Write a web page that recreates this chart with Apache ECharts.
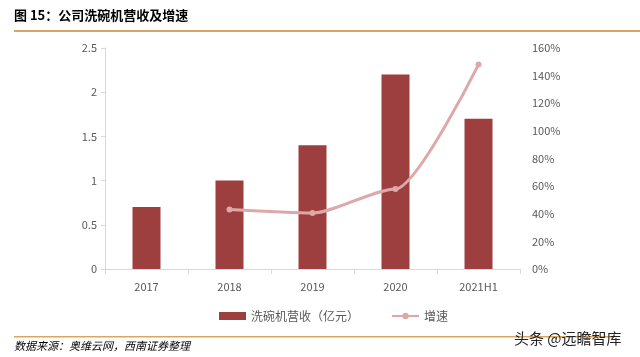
<!DOCTYPE html>
<html><head><meta charset="utf-8">
<script src="https://cdn.jsdelivr.net/npm/echarts@6/dist/echarts.min.js"></script>
<style>html,body{margin:0;padding:0;background:#fff}#c{width:640px;height:357px}</style>
</head><body><div id="c"></div>
<script>
var categories = ['2017', '2018', '2019', '2020', '2021H1'];
var revenue = [0.7, 1.0, 1.4, 2.2, 1.7];
var growth = [null, 43, 40.5, 58, 148];
var leftTicks = [0, 0.5, 1, 1.5, 2, 2.5];
var rightTicks = [0, 20, 40, 60, 80, 100, 120, 140, 160];

var FONT = '"Noto Sans CJK SC", "Noto Sans", sans-serif';
var chart = echarts.init(document.getElementById('c'));
chart.setOption({
  animation: false,
  textStyle: { fontFamily: FONT },
  grid: { left: 105, right: 120, top: 48, bottom: 88 },
  legend: {
    left: 214, top: 305, itemGap: 32, itemWidth: 27, itemHeight: 8,
    textStyle: { fontSize: 12, color: '#595959', fontFamily: FONT },
    data: [
      { name: '洗碗机营收（亿元）', icon: 'rect' },
      { name: '增速' }
    ]
  },
  xAxis: {
    type: 'category', data: categories,
    axisLine: { lineStyle: { color: '#d9d9d9' } },
    axisTick: { show: true, alignWithLabel: false, lineStyle: { color: '#d9d9d9' } },
    axisLabel: { color: '#595959', fontSize: 11, margin: 12 }
  },
  yAxis: [{
    type: 'value', min: 0, max: 2.5, interval: 0.5,
    axisLine: { show: true, lineStyle: { color: '#d9d9d9' } },
    axisTick: { show: true, length: 4, lineStyle: { color: '#d9d9d9' } },
    splitLine: { show: false },
    axisLabel: { color: '#595959', fontSize: 11, margin: 8 }
  }, {
    type: 'value', min: 0, max: 160, interval: 20,
    axisLine: { show: false }, axisTick: { show: false },
    splitLine: { show: false },
    axisLabel: { color: '#595959', fontSize: 11, margin: 12, formatter: '{value}%' }
  }],
  series: [{
    name: '洗碗机营收（亿元）', type: 'bar', data: revenue, barWidth: 28,
    itemStyle: { color: '#9E3F3F' }
  }, {
    name: '增速', type: 'line', yAxisIndex: 1, data: growth, smooth: 0.25, smoothMonotone: 'x',
    symbol: 'circle', symbolSize: 6, showSymbol: true,
    lineStyle: { color: '#DDA8A8', width: 3 },
    itemStyle: { color: '#DDA8A8' }
  }],
  graphic: [
    { type: 'text', left: 14, top: 9, style: { text: '图 15：公司洗碗机营收及增速', font: 'bold 13px ' + FONT, fill: '#000' } },
    { type: 'rect', shape: { x: 14, y: 30, width: 626, height: 2 }, style: { fill: '#D9A55F' } },
    { type: 'rect', shape: { x: 14, y: 336, width: 600, height: 1.5 }, style: { fill: '#D9A55F' } },
    { type: 'text', left: 14, top: 340, style: { text: '数据来源：奥维云网，西南证券整理', font: 'italic 11px ' + FONT, fill: '#000' } },
    { type: 'text', left: 514, top: 331, style: { text: '头条 @远瞻智库', font: '15px ' + FONT, fill: '#222' } }
  ]
});
</script></body></html>
